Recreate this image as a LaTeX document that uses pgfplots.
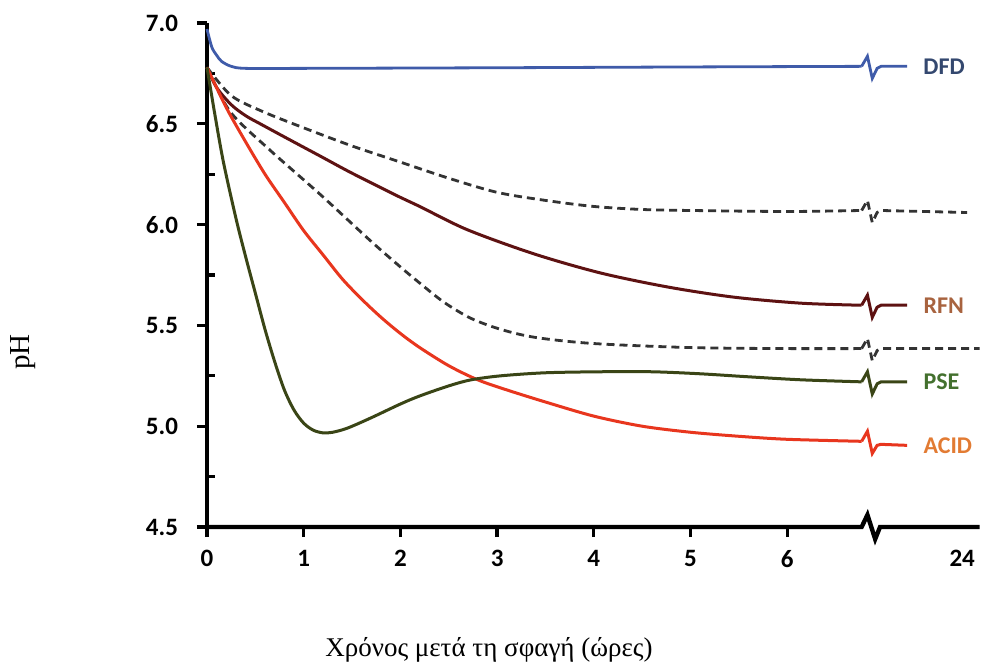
\documentclass[border=0pt]{standalone}
\usepackage{fontspec}
\setmainfont{Carlito}
\newfontfamily\grserif{Liberation Serif}
\usepackage{pgfplots}
\pgfplotsset{compat=1.18}

\definecolor{dfdline}{HTML}{3F5BA9}
\definecolor{dfdtext}{HTML}{34486F}
\definecolor{rfnline}{HTML}{5E1212}
\definecolor{rfntext}{HTML}{A8633F}
\definecolor{pseline}{HTML}{3A4516}
\definecolor{psetext}{HTML}{43702E}
\definecolor{acidline}{HTML}{E8361E}
\definecolor{acidtext}{HTML}{E27B33}
\definecolor{dashgray}{HTML}{333333}

\begin{document}
\begin{tikzpicture}
\useasboundingbox (-103.5pt,-68.5pt) rectangle (389.5pt,263.5pt);
\begin{axis}[
  scale only axis, width=386.8pt, height=252pt,
  xmin=0, xmax=8, ymin=4.5, ymax=7,
  clip=false,
  axis x line*=bottom, axis y line*=left,
  axis line style={-},
  x axis line style={draw=none},
  y axis line style={line width=2.2pt},
  tick align=outside,
  major tick length=5pt,
  tick style={line width=1.6pt, black},
  xtick={0,1,2,3,4,5,6},
  ytick={4.5,5,5.5,6,6.5,7},
  extra x ticks={7.81}, extra x tick labels={24},
  extra x tick style={major tick length=0pt, tick label style={yshift=-5pt}},
  extra y ticks={4.75,5.25,5.75,6.25,6.75}, extra y tick labels={},
  extra y tick style={tick align=inside, major tick length=4pt},
  /pgf/number format/assume math mode=true,
  tick label style={font=\fontsize{12.5}{15}\selectfont\bfseries},
  x tick label style={yshift=-3pt},
  y tick label style={xshift=-6pt, /pgf/number format/fixed,
    /pgf/number format/fixed zerofill, /pgf/number format/precision=1},
  xlabel={\grserif Χρόνος μετά τη σφαγή (ώρες)},
  xlabel style={font=\fontsize{13.5}{16}\selectfont, anchor=center,
    at={(axis description cs:0.3645,-0.243)}},
  ylabel={\grserif pH},
  ylabel style={font=\fontsize{14.5}{17}\selectfont, anchor=center, rotate=0,
    at={(axis description cs:-0.2378,0.347)}},
]
% broken time axis
\addplot[black, line width=2.2pt] coordinates {(0,4.5) (6.77,4.5) (6.83,4.56) (6.91,4.44) (6.96,4.5) (7.99,4.5)};

% upper dashed
\addplot[dashgray, line width=1.4pt, dash pattern=on 4pt off 2.5pt, smooth, tension=0.5] coordinates {
(0,6.78) (0.25,6.64) (0.58,6.56) (1.0,6.48) (1.5,6.39) (2.0,6.31) (2.5,6.23) (3.0,6.16)
(3.5,6.12) (4.0,6.09) (4.5,6.075) (5,6.07) (6,6.065) (6.77,6.07)};
\addplot[dashgray, line width=1.4pt, dash pattern=on 4pt off 2.5pt] coordinates {
(6.77,6.07) (6.83,6.12) (6.88,6.01) (6.93,6.06) (6.97,6.07) (7.86,6.06)};

% lower dashed
\addplot[dashgray, line width=1.4pt, dash pattern=on 4pt off 2.5pt, smooth, tension=0.5] coordinates {
(0,6.78) (0.24,6.56) (0.65,6.37) (1.17,6.15) (1.69,5.92) (2.0,5.79) (2.2,5.71) (2.45,5.615)
(2.73,5.535) (3.04,5.48) (3.4,5.44) (4.0,5.41) (5,5.39) (6,5.385) (6.77,5.385)};
\addplot[dashgray, line width=1.4pt, dash pattern=on 4pt off 2.5pt] coordinates {
(6.77,5.385) (6.83,5.435) (6.88,5.325) (6.93,5.375) (6.97,5.385) (7.99,5.385)};

% DFD
\addplot[dfdline, line width=1.4pt, smooth, tension=0.5] coordinates {
(0,6.97) (0.05,6.88) (0.1,6.84) (0.15,6.81) (0.25,6.785) (0.4,6.775) (1,6.775) (3,6.778)
(5,6.782) (6.77,6.785)};
\addplot[dfdline, line width=1.4pt] coordinates {
(6.77,6.785) (6.83,6.835) (6.88,6.725) (6.93,6.775) (6.97,6.785) (7.24,6.785)}
  node[pos=1, anchor=west, xshift=7.5pt, inner sep=0pt, text=dfdtext,
    font=\fontsize{12}{14}\selectfont\bfseries] {DFD};

% RFN
\addplot[rfnline, line width=1.5pt, smooth, tension=0.5] coordinates {
(0,6.78) (0.1,6.68) (0.25,6.595) (0.4,6.54) (0.55,6.50) (0.8,6.435) (1.17,6.34) (1.5,6.255)
(2.0,6.135) (2.2,6.09) (2.69,5.975) (3.38,5.855) (4.07,5.76) (4.77,5.69) (5.45,5.64)
(6.15,5.61) (6.77,5.60)};
\addplot[rfnline, line width=1.5pt] coordinates {
(6.77,5.60) (6.83,5.65) (6.88,5.54) (6.93,5.59) (6.97,5.60) (7.24,5.60)}
  node[pos=1, anchor=west, xshift=7.5pt, inner sep=0pt, text=rfntext,
    font=\fontsize{12}{14}\selectfont\bfseries] {RFN};

% ACID
\addplot[acidline, line width=1.5pt, smooth, tension=0.5] coordinates {
(0,6.78) (0.2,6.58) (0.4,6.41) (0.6,6.25) (0.8,6.11) (1.0,5.97) (1.2,5.85) (1.4,5.73)
(1.6,5.63) (1.8,5.54) (2.0,5.46) (2.2,5.39) (2.5,5.30) (2.8,5.23) (3.1,5.18) (3.5,5.12)
(4.0,5.05) (4.5,5.00) (5.0,4.97) (5.5,4.95) (6.0,4.935) (6.77,4.925)};
\addplot[acidline, line width=1.5pt] coordinates {
(6.77,4.925) (6.83,4.975) (6.88,4.865) (6.93,4.905) (6.97,4.91) (7.24,4.905)}
  node[pos=1, anchor=west, xshift=7.5pt, inner sep=0pt, text=acidtext,
    font=\fontsize{12}{14}\selectfont\bfseries] {ACID};

% PSE
\addplot[pseline, line width=1.5pt, smooth, tension=0.5] coordinates {
(0,6.78) (0.08,6.55) (0.17,6.31) (0.3,6.03) (0.4,5.84) (0.5,5.66) (0.6,5.48) (0.7,5.32)
(0.8,5.18) (0.9,5.08) (1.0,5.015) (1.1,4.98) (1.2,4.967) (1.3,4.97) (1.45,4.99) (1.69,5.04)
(2.0,5.11) (2.2,5.15) (2.5,5.20) (2.73,5.23) (3.04,5.25) (3.5,5.265) (4.07,5.27) (4.6,5.27)
(5.1,5.26) (5.6,5.245) (6.15,5.23) (6.77,5.22)};
\addplot[pseline, line width=1.5pt] coordinates {
(6.77,5.22) (6.83,5.27) (6.88,5.16) (6.93,5.21) (6.97,5.22) (7.24,5.22)}
  node[pos=1, anchor=west, xshift=7.5pt, inner sep=0pt, text=psetext,
    font=\fontsize{12}{14}\selectfont\bfseries] {PSE};
\end{axis}
\end{tikzpicture}
\end{document}
